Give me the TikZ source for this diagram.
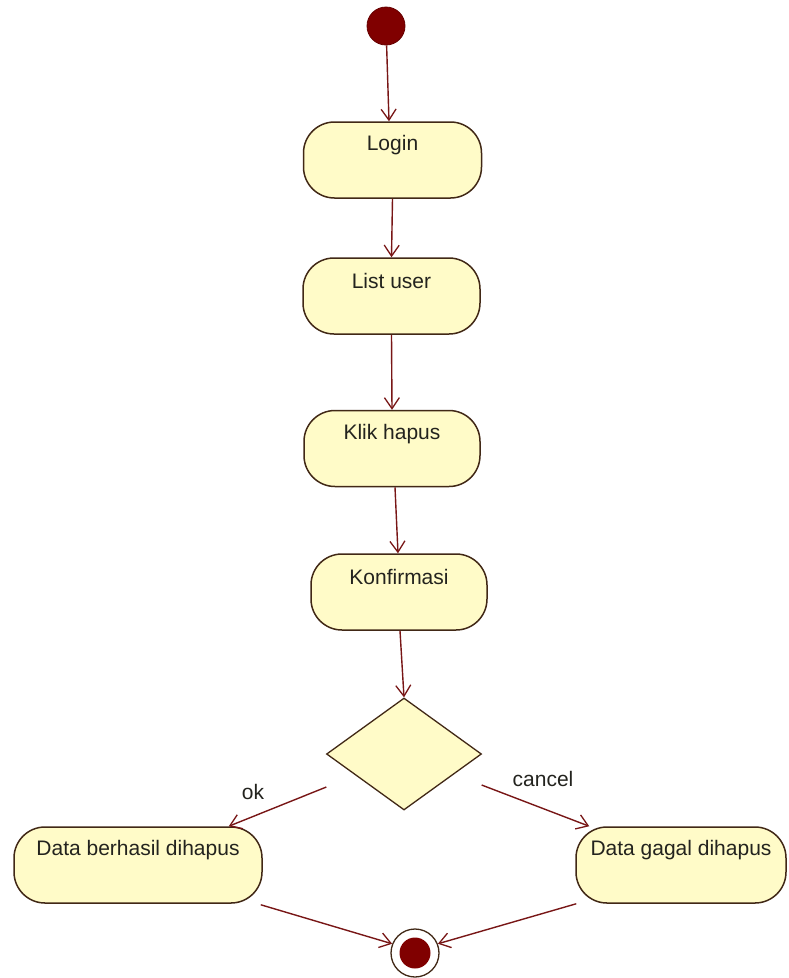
\documentclass[tikz,border=0pt]{standalone}
\usepackage{fontspec}
\setmainfont{Liberation Sans}
\usetikzlibrary{arrows.meta,shapes.geometric,calc}
\definecolor{linered}{RGB}{120,22,22}
\definecolor{boxfill}{RGB}{255,251,200}
\definecolor{boxline}{RGB}{65,40,22}
\definecolor{startred}{RGB}{128,0,0}
\definecolor{txtcol}{RGB}{35,35,30}
\begin{document}
\begin{tikzpicture}[x=1pt,y=-1pt,
  txt/.style={font=\fontsize{21}{25}\selectfont, text=txtcol, inner sep=0pt},
  actbox/.style={draw=boxline, fill=boxfill, line width=1.5pt, rounded corners=31pt,
    minimum height=76pt, inner sep=0pt},
  boxlbl/.style={txt, anchor=center, yshift=-24pt},
  decision/.style={diamond, draw=boxline, fill=boxfill, line width=1.3pt, inner sep=0pt,
    minimum width=155pt, minimum height=112pt},
  flow/.style={draw=linered, line width=1.4pt,
    -{Straight Barb[length=11pt,width=15pt,line width=1.3pt]}},
  startdot/.style={circle, fill=startred, draw=startred!80!black, line width=0.8pt,
    minimum size=38pt, inner sep=0pt},
  endring/.style={circle, draw=boxline, fill=white, line width=1.3pt,
    minimum size=48pt, inner sep=0pt},
  enddot/.style={circle, fill=startred, minimum size=31pt, inner sep=0pt}
]
\useasboundingbox (0,0) rectangle (789,978);

\node[startdot] (start) at (386,26) {};
\node[actbox, minimum width=178pt, label={[boxlbl]north:Login}] (login) at (392.5,160) {};
\node[actbox, minimum width=177pt, label={[boxlbl]north:List user}] (list) at (391.5,296) {};
\node[actbox, minimum width=176pt, label={[boxlbl]north:Klik hapus}] (klik) at (392,448.5) {};
\node[actbox, minimum width=176pt, label={[boxlbl]north:Konfirmasi}] (konf) at (399,592) {};
\node[decision] (dec) at (404,754) {};
\node[actbox, minimum width=248pt, label={[boxlbl]north:Data berhasil dihapus}] (ok) at (138,865) {};
\node[actbox, minimum width=210pt, label={[boxlbl]north:Data gagal dihapus}] (gagal) at (681,865) {};
\node[endring] (end) at (415,953) {};
\node[enddot] (endin) at (end) {};

\node[txt] (oklbl) at (253,792) {ok};
\node[txt] (cancellbl) at (543,779) {cancel};

\coordinate (okstart) at ($(dec.west)+(0.5,33)$);
\coordinate (cancelstart) at ($(dec.east)+(-0.5,31)$);

\draw[flow] (start) -- ($(login.north)+(-3.5,0)$);
\draw[flow] (login.south) -- (list.north);
\draw[flow] (list.south) -- (klik.north);
\draw[flow] ($(klik.south)+(3,0)$) -- ($(konf.north)+(-1,0)$);
\draw[flow] ($(konf.south)+(1,0)$) -- (dec.north);
\draw[flow] (okstart) -- ($(ok.north east)+(-34,0)$);
\draw[flow] (cancelstart) -- ($(gagal.north west)+(14,0)$);
\draw[flow] ($(ok.south east)+(-2,1)$) -- (end.158);
\draw[flow] ($(gagal.south west)+(1,0)$) -- (end.22);
\end{tikzpicture}
\end{document}
